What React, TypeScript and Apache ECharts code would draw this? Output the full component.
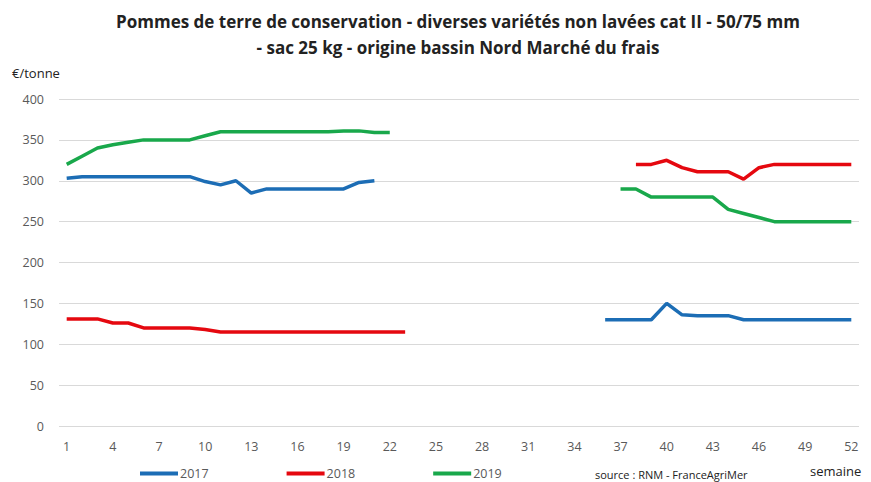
import React, { useEffect, useRef } from "react";
import * as echarts from "echarts";

const weeks: string[] = Array.from({ length: 52 }, (_, i) => String(i + 1));

// 2017: weeks 1-21, then 36-52
const s2017Early: number[] = [303, 305, 305, 305, 305, 305, 305, 305, 305, 299, 295, 300, 285, 290, 290, 290, 290, 290, 290, 298, 300];
const s2017Late: number[] = [130, 130, 130, 130, 150, 136, 135, 135, 135, 130, 130, 130, 130, 130, 130, 130, 130];
// 2018: weeks 1-23, then 38-52
const s2018Early: number[] = [131, 131, 131, 126, 126, 120, 120, 120, 120, 118, 115, 115, 115, 115, 115, 115, 115, 115, 115, 115, 115, 115, 115];
const s2018Late: number[] = [320, 320, 325, 316, 311, 311, 311, 302, 316, 320, 320, 320, 320, 320, 320];
// 2019: weeks 1-22, then 37-52
const s2019Early: number[] = [320, 330, 340, 344, 347, 350, 350, 350, 350, 355, 360, 360, 360, 360, 360, 360, 360, 360, 361, 361, 359, 359];
const s2019Late: number[] = [290, 290, 280, 280, 280, 280, 280, 265, 260, 255, 250, 250, 250, 250, 250, 250];

const yTicks = { min: 0, max: 400, interval: 50 };

function buildSeries(early: number[], lateStartWeek: number, late: number[]): (number | null)[] {
  const out: (number | null)[] = new Array(52).fill(null);
  early.forEach((v, i) => (out[i] = v));
  late.forEach((v, i) => (out[lateStartWeek - 1 + i] = v));
  return out;
}

const FONT = "'Open Sans', sans-serif";

export default function App() {
  const ref = useRef<HTMLDivElement>(null);
  useEffect(() => {
    document.body.style.margin = "0";
    if (!ref.current) return;
    const chart = echarts.init(ref.current, undefined, { renderer: "svg" });
    const mk = (name: string, color: string, data: (number | null)[]) => ({
      name,
      type: "line",
      data,
      showSymbol: false,
      symbol: "none",
      connectNulls: false,
      lineStyle: { color, width: 3.5 },
      itemStyle: { color },
    });
    chart.setOption({
      animation: false,
      backgroundColor: "#ffffff",
      title: {
        text: "Pommes de terre de conservation - diverses variétés non lavées cat II - 50/75 mm\n- sac 25 kg - origine bassin Nord Marché du frais",
        left: 453,
        top: 3,
        textAlign: "center",
        textStyle: { fontFamily: FONT, fontSize: 17, fontWeight: "bold", color: "#222", lineHeight: 26 },
      },
      grid: { left: 59, right: 12, top: 99, bottom: 56 },
      xAxis: {
        type: "category",
        data: weeks,
        boundaryGap: true,
        axisLine: { show: false },
        axisTick: { show: false },
        axisLabel: { interval: 2, color: "#595959", fontFamily: FONT, fontSize: 12.5, margin: 14 },
        splitLine: { show: false },
      },
      yAxis: {
        type: "value",
        min: yTicks.min,
        max: yTicks.max,
        interval: yTicks.interval,
        axisLine: { show: false },
        axisTick: { show: false },
        axisLabel: { color: "#595959", fontFamily: FONT, fontSize: 12.5, margin: 15 },
        splitLine: { lineStyle: { color: "#d9d9d9", width: 1 } },
      },
      legend: {
        left: 140,
        top: 467,
        padding: 0,
        itemWidth: 38,
        itemHeight: 4,
        itemGap: 78,
        icon: "rect",
        textStyle: { color: "#595959", fontFamily: FONT, fontSize: 12.5, padding: [0, 0, 0, -3] },
        data: ["2017", "2018", "2019"],
      },
      graphic: [
        { type: "text", left: 12, top: 66, style: { text: "€/tonne", font: `13px ${FONT}`, fill: "#222" } },
        { type: "text", left: 595, top: 469, style: { text: "source : RNM - FranceAgriMer", font: `11px ${FONT}`, fill: "#222" } },
        { type: "text", left: 810, top: 464, style: { text: "semaine", font: `13px ${FONT}`, fill: "#222" } },
      ],
      series: [
        mk("2017", "#1c6db5", buildSeries(s2017Early, 36, s2017Late)),
        mk("2018", "#e5080f", buildSeries(s2018Early, 38, s2018Late)),
        mk("2019", "#19a84b", buildSeries(s2019Early, 37, s2019Late)),
      ],
    });
    return () => chart.dispose();
  }, []);
  return <div ref={ref} style={{ width: 871, height: 482 }} />;
}
